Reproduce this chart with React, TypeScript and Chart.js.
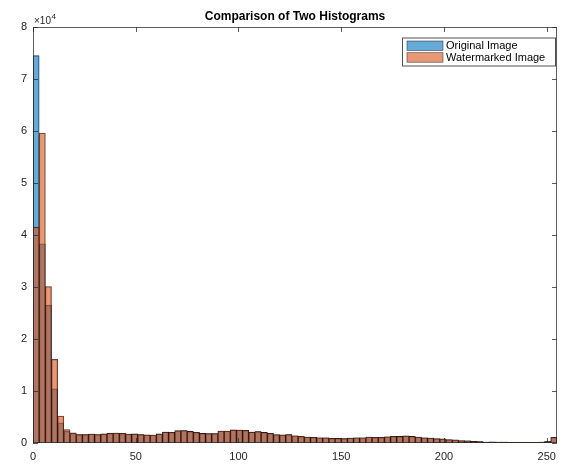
import React, { useEffect, useRef } from "react";
import { Chart, registerables } from "chart.js";

Chart.register(...registerables);

// Histogram bins: 85 bins of width 3 covering grey levels 0..255
const binWidth = 3;
const binCount = 85;
const binCenters: number[] = Array.from({ length: binCount }, (_, i) => i * binWidth + binWidth / 2);

// Counts per bin (original image)
const originalCounts: number[] = [
  74500, 38300, 26500, 10400, 3900, 2250, 1850, 1600, 1600, 1730,
  1600, 1730, 1900, 1900, 1860, 1730, 1730, 1600, 1540, 1540,
  1730, 2100, 2050, 2370, 2370, 2240, 2050, 1860, 1800, 1800,
  2300, 2300, 2500, 2500, 2450, 2100, 2200, 2050, 1860, 1600,
  1540, 1600, 1400, 1280, 1150, 1100, 1000, 1000, 900, 900,
  830, 960, 1000, 1000, 1150, 1100, 1100, 1200, 1280, 1280,
  1350, 1280, 1150, 1000, 960, 830, 770, 640, 580, 450,
  400, 320, 260, 200, 200, 200, 200, 130, 130, 130,
  130, 130, 200, 250, 1100,
];

// Counts per bin (watermarked image)
const watermarkedCounts: number[] = [
  41500, 59600, 30100, 16100, 5200, 2560, 1950, 1620, 1610, 1720,
  1620, 1740, 1880, 1910, 1870, 1720, 1740, 1610, 1550, 1530,
  1740, 2080, 2060, 2360, 2380, 2230, 2060, 1850, 1810, 1790,
  2310, 2290, 2510, 2490, 2460, 2090, 2210, 2040, 1870, 1590,
  1550, 1610, 1390, 1290, 1140, 1110, 990, 1010, 900, 890,
  840, 950, 1010, 990, 1160, 1090, 1110, 1190, 1290, 1270,
  1360, 1270, 1160, 990, 970, 820, 780, 630, 590, 440,
  410, 310, 270, 190, 210, 190, 200, 140, 120, 130,
  140, 120, 200, 320, 1100,
];

const xTicks: number[] = [0, 50, 100, 150, 200, 250];
const yTicks: number[] = [0, 10000, 20000, 30000, 40000, 50000, 60000, 70000, 80000];

const titleText = "Comparison of Two Histograms";
const seriesNames: string[] = ["Original Image", "Watermarked Image"];

const FONT = "'Liberation Sans', Arial, Helvetica, sans-serif";
const AXIS_COLOR = "#262626";
const BLUE_FILL = "rgba(0,114,189,0.6)";
const ORANGE_FILL = "rgba(217,83,25,0.6)";

const framePlugin = {
  id: "frameAndLabels",
  afterDraw(chart: any) {
    const { ctx, chartArea } = chart;
    const { left, right, top, bottom } = chartArea;
    const xs = chart.scales.x;
    const ys = chart.scales.y;
    ctx.save();

    // Box around the axes
    ctx.strokeStyle = "rgba(38,38,38,0.75)";
    ctx.lineWidth = 1;
    ctx.beginPath();
    ctx.rect(left + 0.5, top + 0.5, right - left - 1, bottom - top - 1);
    ctx.stroke();

    // Inward tick marks on all four sides
    const tl = 5;
    ctx.beginPath();
    xTicks.forEach((v) => {
      const px = Math.round(xs.getPixelForValue(v)) + 0.5;
      ctx.moveTo(px, bottom);
      ctx.lineTo(px, bottom - tl);
      ctx.moveTo(px, top);
      ctx.lineTo(px, top + tl);
    });
    yTicks.forEach((v) => {
      const py = Math.round(ys.getPixelForValue(v)) + 0.5;
      ctx.moveTo(left, py);
      ctx.lineTo(left + tl, py);
      ctx.moveTo(right, py);
      ctx.lineTo(right - tl, py);
    });
    ctx.stroke();

    // Title
    ctx.fillStyle = "#000";
    ctx.font = `bold 12px ${FONT}`;
    ctx.textAlign = "center";
    ctx.textBaseline = "alphabetic";
    ctx.fillText(titleText, (left + right) / 2, 20);

    // Exponent label for the y axis
    ctx.fillStyle = AXIS_COLOR;
    ctx.textAlign = "left";
    ctx.font = `10px ${FONT}`;
    ctx.fillText("\u00d710", left + 1, 24);
    const w = ctx.measureText("\u00d710").width;
    ctx.font = `8px ${FONT}`;
    ctx.fillText("4", left + 1 + w + 0.5, 19);

    // Legend box
    const lx = 402;
    const ly = 37.5;
    const lw = 153;
    const lh = 28;
    ctx.fillStyle = "#fff";
    ctx.fillRect(lx, ly, lw, lh);
    ctx.strokeStyle = "rgba(38,38,38,0.8)";
    ctx.lineWidth = 1;
    ctx.strokeRect(lx + 0.5, ly + 0.5, lw, lh);
    const fills = [BLUE_FILL, ORANGE_FILL];
    seriesNames.forEach((name, i) => {
      const sy = 41 + i * 11.7;
      ctx.fillStyle = "#fff";
      ctx.fillRect(407, sy, 36, 9.5);
      ctx.fillStyle = fills[i];
      ctx.fillRect(407, sy, 36, 9.5);
      ctx.strokeStyle = "rgba(0,0,0,0.7)";
      ctx.lineWidth = 0.6;
      ctx.strokeRect(407, sy, 36, 9.5);
      ctx.fillStyle = "#000";
      ctx.font = `11px ${FONT}`;
      ctx.textBaseline = "middle";
      ctx.textAlign = "left";
      ctx.fillText(name, 446, sy + 5);
    });
    ctx.restore();
  },
};

export default function App() {
  const canvasRef = useRef<HTMLCanvasElement | null>(null);

  useEffect(() => {
    if (!canvasRef.current) return;
    const toPoints = (vals: number[]) => vals.map((y, i) => ({ x: binCenters[i], y }));
    const chart = new Chart(canvasRef.current, {
      type: "bar",
      data: {
        datasets: [
          {
            label: seriesNames[0],
            data: toPoints(originalCounts),
            backgroundColor: BLUE_FILL,
            borderColor: "rgba(0,0,0,0.75)",
            borderWidth: 0.6,
            grouped: false,
            barPercentage: 1,
            categoryPercentage: 1,
            order: 1,
          } as any,
          {
            label: seriesNames[1],
            data: toPoints(watermarkedCounts),
            backgroundColor: ORANGE_FILL,
            borderColor: "rgba(0,0,0,0.75)",
            borderWidth: 0.6,
            grouped: false,
            barPercentage: 1,
            categoryPercentage: 1,
            order: 0,
          } as any,
        ],
      },
      options: {
        animation: false,
        responsive: false,
        events: [],
        layout: { padding: { top: 27, right: 8, left: 0, bottom: 0 } },
        plugins: {
          legend: { display: false },
          title: { display: false },
          tooltip: { enabled: false },
        },
        scales: {
          x: {
            type: "linear",
            min: 0,
            max: 255,
            offset: false,
            border: { display: false },
            grid: { display: false, drawTicks: false },
            afterBuildTicks: (scale: any) => {
              scale.ticks = xTicks.map((v) => ({ value: v }));
            },
            afterFit: (scale: any) => {
              scale.height = 22;
            },
            ticks: {
              color: AXIS_COLOR,
              font: { family: FONT, size: 11 },
              padding: 7,
              maxRotation: 0,
              autoSkip: false,
            },
          },
          y: {
            type: "linear",
            min: 0,
            max: 80000,
            border: { display: false },
            grid: { display: false, drawTicks: false },
            afterBuildTicks: (scale: any) => {
              scale.ticks = yTicks.map((v) => ({ value: v }));
            },
            afterFit: (scale: any) => {
              scale.width = 33;
            },
            ticks: {
              color: AXIS_COLOR,
              font: { family: FONT, size: 11 },
              padding: 6,
              callback: (v: any) => String(Number(v) / 10000),
            },
          },
        },
      },
      plugins: [framePlugin],
    });
    return () => chart.destroy();
  }, []);

  return (
    <div style={{ position: "fixed", left: 0, top: 0, width: 565, height: 465, background: "#fff" }}>
      <canvas ref={canvasRef} width={565} height={465} />
    </div>
  );
}
